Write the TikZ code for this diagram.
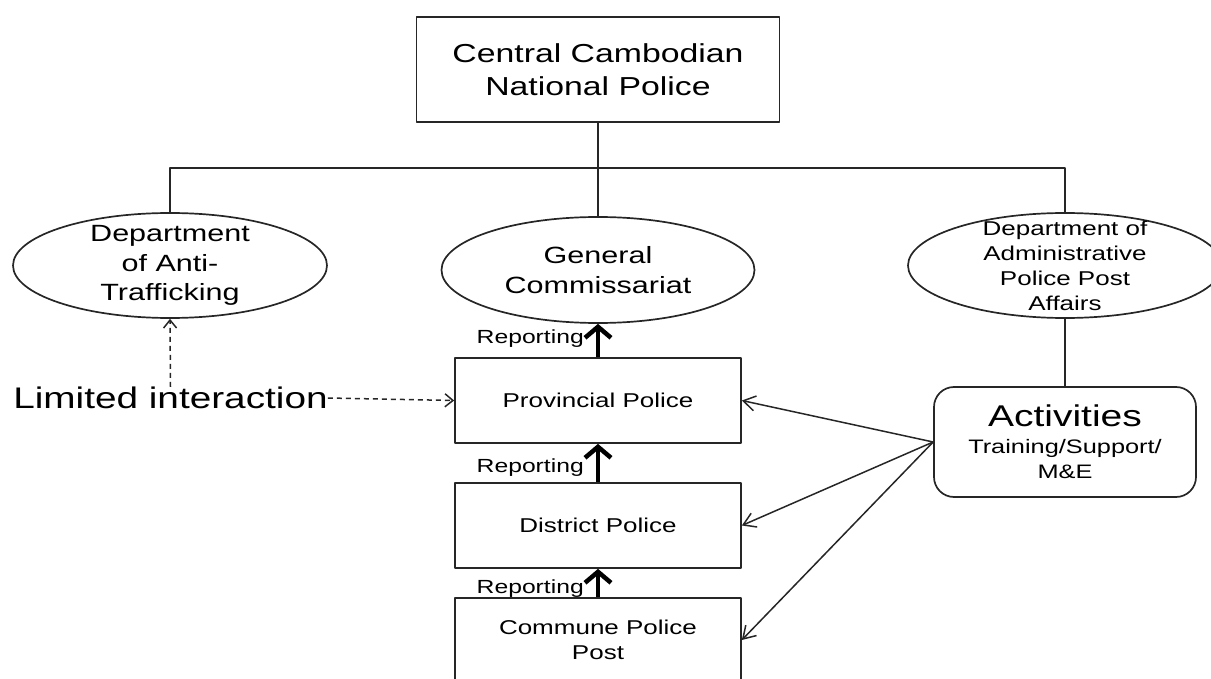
\documentclass[tikz,border=0pt]{standalone}
\usepackage{fontspec}
\setmainfont{Liberation Sans}[FakeStretch=1.3]
\usetikzlibrary{shapes.geometric,arrows.meta}

\begin{document}
\begin{tikzpicture}[x=1pt, y=-1pt, line join=round,
    link/.style={draw=black!85, line width=1.7pt},
    box/.style={draw=black!85, line width=1.7pt, rectangle, minimum width=286pt, minimum height=85pt, inner sep=0pt, align=center, font=\fontsize{20}{25}\selectfont},
    oval/.style={draw=black!85, line width=1.7pt, ellipse, minimum width=314pt, minimum height=105pt, inner sep=0pt},
    report/.style={draw=black, line width=4.5pt, -{Straight Barb[length=11pt,width=26pt]}},
    feed/.style={draw=black!85, line width=1.5pt, -{Straight Barb[length=12pt,width=15pt]}},
    limit/.style={draw=black!85, line width=1.5pt, dash pattern=on 5pt off 4pt, -{Straight Barb[length=8pt,width=13pt]}},
    replab/.style={font=\fontsize{19}{23}\selectfont, anchor=base east, inner sep=0pt}]

    \useasboundingbox (0,0) rectangle (1211,679);

    % top of the hierarchy
    \node[box, minimum width=363pt, minimum height=105pt, font=\fontsize{26}{33}\selectfont] (cnp) at (598,69.5) {Central Cambodian\\National Police};

    % departments
    \node[oval, label={[font=\fontsize{23.5}{29.5}\selectfont, align=center]center:{Department\\of Anti-\\Trafficking}}] (dat) at (170,265.5) {};
    \node[oval, minimum width=313pt, minimum height=106pt, label={[font=\fontsize{23.5}{30}\selectfont, align=center]center:{General\\Commissariat}}] (gc) at (598,270) {};
    \node[oval, label={[font=\fontsize{20}{25}\selectfont, align=center]center:{Department of\\Administrative\\Police Post\\Affairs}}] (dap) at (1065,265.5) {};

    \coordinate (bar) at (598,168);
    \draw[link] (cnp.south) -- (bar);
    \draw[link] (dat.north) |- (bar);
    \draw[link] (dap.north) |- (bar);
    \draw[link] (gc.north) -- (bar);

    % police levels
    \node[box] (pp) at (598,400.5) {Provincial Police};
    \node[box] (dp) at (598,525.5) {District Police};
    \node[box, minimum height=84pt] (cpp) at (598,640) {Commune Police\\Post};

    \draw[report] (pp.north) -- (gc.south);
    \draw[report] (dp.north) -- (pp.south);
    \draw[report] (cpp.north) -- (dp.south);
    \node[replab] (rep1) at (584,343) {Reporting};
    \node[replab] (rep2) at (584,472) {Reporting};
    \node[replab] (rep3) at (584,593) {Reporting};

    % activities
    \node[draw=black!85, line width=1.7pt, rounded corners=20pt, minimum width=262pt, minimum height=110pt, inner sep=0pt, align=center, font=\fontsize{19.5}{25}\selectfont] (act) at (1065,442) {{\fontsize{30}{30}\selectfont Activities}\\[2pt]Training/Support/\\M\&E};
    \draw[link] (dap.south) -- (act.north);
    \draw[feed] (act.west) -- (pp.east);
    \draw[feed] (act.west) -- (dp.east);
    \draw[feed] (act.west) -- (cpp.east);

    % limited interaction
    \node[font=\fontsize{29.8}{35}\selectfont, inner sep=0pt] (lim) at (170.5,398) {Limited interaction};
    \draw[limit] (lim.east) -- (pp.west);
    \draw[limit] (lim.north) -- (dat.south);

\end{tikzpicture}
\end{document}
